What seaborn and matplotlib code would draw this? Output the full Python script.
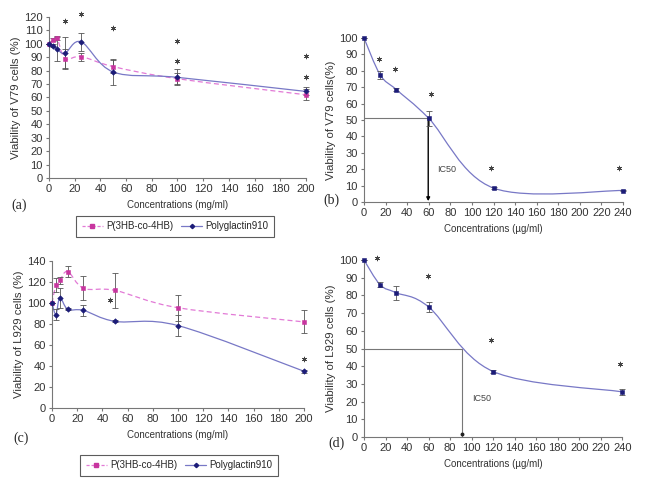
import numpy as np
import seaborn as sns
import matplotlib
matplotlib.use("Agg")
import matplotlib.pyplot as plt
from matplotlib.path import Path
from matplotlib.patches import PathPatch
from matplotlib.lines import Line2D

# ------------ data ----------------
conc_mg = [0, 3.125, 6.25, 12.5, 25, 50, 100, 200]
conc_ug = [0, 15, 30, 60, 120, 240]

# (a) V79, polymer extracts
a_p3hb = [100, 103, 104.5, 89, 90.5, 83, 74, 62]
a_p3hb_err = [0, 1, 1.5, 7, 3, 5, 4, 4]
a_poly = [100, 98.5, 96, 93, 101.5, 79, 75, 64.5]
a_poly_err = [0, 1, 9, 12, 6.5, 9.5, 6, 3]
a_star_x = [12.5, 25, 50, 100, 100, 200, 200]
a_star_y = [117, 122, 112, 102, 87, 91, 75]

# (b) V79, dose response
b_val = [100, 77.5, 68.5, 51, 8.5, 7]
b_err = [0, 2.5, 1, 4.5, 0.5, 0.5]
b_star_x = [14, 29, 62, 118, 236]
b_star_y = [87, 81, 66, 21, 21]
b_ic50 = (60, 51)

# (c) L929, polymer extracts
c_p3hb = [100, 117, 121.5, 130, 114, 112, 95.5, 82]
c_p3hb_err = [0, 6.5, 3, 5, 11.5, 16.5, 12.5, 11]
c_poly = [100, 89, 105, 94, 93, 82.5, 78.5, 35]
c_poly_err = [0, 5, 9.5, 1, 5, 1, 10, 1.5]
c_star_x = [46, 200]
c_star_y = [103, 47]

# (d) L929, dose response
d_val = [100, 86, 81.5, 73.5, 37, 25.5]
d_err = [0, 1.5, 4, 3, 1, 1.5]
d_star_x = [12, 59, 118, 238]
d_star_y = [101, 91, 55, 41]
d_ic50 = (91, 50)

PINK_LINE = "#e27ad6"
PINK_MK = "#c8359f"
NAVY_LINE = "#7878c6"
NAVY_MK = "#1c1c78"
GREY = "#555555"

sns.set_style("ticks")
plt.rcParams["font.family"] = ["Liberation Sans", "DejaVu Sans"]
plt.rcParams["font.size"] = 7
plt.rcParams["axes.edgecolor"] = "#777777"
plt.rcParams["xtick.color"] = "#777777"
plt.rcParams["ytick.color"] = "#777777"
plt.rcParams["xtick.labelcolor"] = "#333333"
plt.rcParams["ytick.labelcolor"] = "#333333"
plt.rcParams["xtick.major.size"] = 2.5
plt.rcParams["ytick.major.size"] = 2.5
plt.rcParams["axes.linewidth"] = 0.8


def smooth_path(ax, x, y, **kw):
    # excel-style smoothed line: cubic bezier through the points
    pts = np.column_stack([x, y]).astype(float)
    n = len(pts)
    verts = [pts[0]]
    codes = [Path.MOVETO]
    for i in range(n - 1):
        p0 = pts[i - 1] if i > 0 else pts[i]
        p3 = pts[i + 2] if i + 2 < n else pts[i + 1]
        c1 = pts[i] + (pts[i + 1] - p0) / 6
        c2 = pts[i + 1] - (p3 - pts[i]) / 6
        verts += [c1, c2, pts[i + 1]]
        codes += [Path.CURVE4] * 3
    ax.add_patch(PathPatch(Path(verts, codes), fill=False, clip_on=False, **kw))


def series(ax, x, y, err, mk, mkcol, lcol, ls):
    smooth_path(ax, x, y, edgecolor=lcol, lw=0.9, linestyle=ls, zorder=2)
    eb = ax.errorbar(x, y, yerr=err, fmt="none", ecolor=GREY, elinewidth=0.6,
                     capsize=2, capthick=0.6, zorder=3)
    for art in eb.get_children():
        art.set_clip_on(False)
    sns.scatterplot(x=x, y=y, ax=ax, marker=mk, color=mkcol, s=8,
                    edgecolor=mkcol, linewidth=0.4, zorder=4, legend=False,
                    clip_on=False)


def stars(ax, sx, sy):
    sns.scatterplot(x=sx, y=sy, ax=ax, marker=(6, 2, 0), color="#444444",
                    s=12, linewidth=0.55, zorder=5, legend=False, clip_on=False)


def style(ax, xmax, xstep, ymax, ystep, ylabel, xlabel):
    ax.set_xlim(0, xmax)
    ax.set_ylim(0, ymax)
    ax.set_xticks(np.arange(0, xmax + 1, xstep))
    ax.set_yticks(np.arange(0, ymax + 1, ystep))
    ax.set_xlabel(xlabel, fontsize=7, color="#333333", labelpad=4)
    ax.set_ylabel(ylabel, fontsize=8.2, color="#333333", labelpad=2)
    ax.tick_params(labelsize=8, pad=2)
    sns.despine(ax=ax)


fig = plt.figure(figsize=(6.54, 4.98), dpi=100)
ax_a = fig.add_axes([0.0749, 0.6426, 0.393, 0.3233])
ax_b = fig.add_axes([0.5566, 0.5944, 0.396, 0.3293])
ax_c = fig.add_axes([0.0795, 0.1807, 0.3853, 0.2952])
ax_d = fig.add_axes([0.5566, 0.1225, 0.395, 0.3554])

# (a)
series(ax_a, conc_mg, a_p3hb, a_p3hb_err, "s", PINK_MK, PINK_LINE, (0, (4, 2.5)))
series(ax_a, conc_mg, a_poly, a_poly_err, "D", NAVY_MK, NAVY_LINE, "-")
stars(ax_a, a_star_x, a_star_y)
style(ax_a, 200, 20, 120, 10, "Viability of V79 cells (%)", "Concentrations (mg/ml)")

# (b)
series(ax_b, conc_ug, b_val, b_err, "s", NAVY_MK, NAVY_LINE, "-")
stars(ax_b, b_star_x, b_star_y)
ax_b.plot([0, b_ic50[0]], [b_ic50[1], b_ic50[1]], color="#777777", lw=0.8, zorder=1)
ax_b.annotate("", xy=(b_ic50[0] - 0.5, 0.5), xytext=(b_ic50[0] - 0.5, b_ic50[1]),
              arrowprops=dict(arrowstyle="-|>", color="black", lw=1.0,
                              mutation_scale=5, shrinkA=0, shrinkB=0), zorder=1)
ax_b.text(68, 20, "IC50", fontsize=6.5, color="#444444", va="center")
style(ax_b, 240, 20, 100, 10, "Viability of V79 cells(%)", "Concentrations (\u00b5g/ml)")

# (c)
series(ax_c, conc_mg, c_p3hb, c_p3hb_err, "s", PINK_MK, PINK_LINE, (0, (4, 2.5)))
series(ax_c, conc_mg, c_poly, c_poly_err, "D", NAVY_MK, NAVY_LINE, "-")
stars(ax_c, c_star_x, c_star_y)
style(ax_c, 200, 20, 140, 20, "Viability of L929 cells (%)", "Concentrations (mg/ml)")

# (d)
series(ax_d, conc_ug, d_val, d_err, "s", NAVY_MK, NAVY_LINE, "-")
stars(ax_d, d_star_x, d_star_y)
ax_d.plot([0, d_ic50[0], d_ic50[0]], [d_ic50[1], d_ic50[1], 0], color="#777777",
          lw=0.8, zorder=1)
ax_d.plot([d_ic50[0]], [1.5], marker="o", ms=1.8, color="#222222")
ax_d.text(100, 22, "IC50", fontsize=6.5, color="#444444", va="center")
style(ax_d, 240, 20, 100, 10, "Viability of L929 cells (%)", "Concentrations (\u00b5g/ml)")

# legends
handles = [
    Line2D([], [], color=PINK_LINE, ls=(0, (2.5, 1.5)), lw=0.9, marker="s",
           ms=2.5, mfc=PINK_MK, mec=PINK_MK),
    Line2D([], [], color=NAVY_LINE, lw=0.9, marker="D", ms=2.2,
           mfc=NAVY_MK, mec=NAVY_MK),
]
labels = ["P(3HB-co-4HB)", "Polyglactin910"]
for loc in [(0.2676, 0.5452), (0.2737, 0.0653)]:
    leg = fig.legend(handles, labels, loc="center", bbox_to_anchor=loc, ncol=2,
                     fontsize=7, frameon=True, fancybox=False, handlelength=2.2,
                     columnspacing=0.8, handletextpad=0.3, borderpad=0.55,
                     borderaxespad=0)
    leg.get_frame().set_edgecolor("#333333")
    leg.get_frame().set_linewidth(0.8)

# panel labels
for txt, x, y in [("(a)", 0.018, 0.588), ("(b)", 0.494, 0.598),
                  ("(c)", 0.02, 0.12), ("(d)", 0.502, 0.11)]:
    fig.text(x, y, txt, fontsize=10, family=["Liberation Serif"], va="center")

fig.savefig("out.png", dpi=100, facecolor="white")
